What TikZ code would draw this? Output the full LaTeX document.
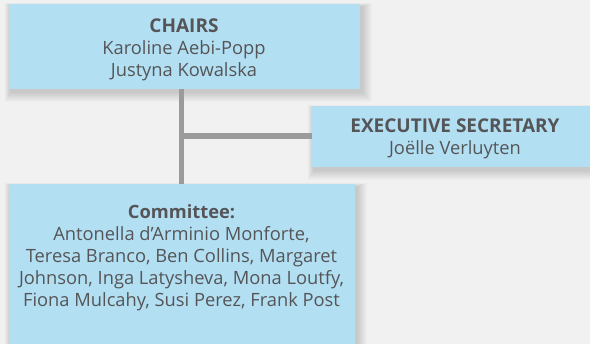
\documentclass[tikz,border=0pt]{standalone}
\usepackage{fontspec}
\setmainfont{Open Sans}
\definecolor{bg}{HTML}{F1F1F1}
\definecolor{boxblue}{HTML}{B3DFF3}
\definecolor{txt}{HTML}{555557}
\definecolor{conn}{HTML}{9B9B9B}
\pgfdeclarelayer{back}
\pgfdeclarelayer{shade}
\pgfsetlayers{back,shade,main}
\newcommand{\hd}[1]{{\fontsize{19}{22}\selectfont\bfseries #1}}
\newcommand{\softshade}[1]{%
  \begin{pgfonlayer}{shade}
  \foreach \r in {1,...,10}{
    \fill[black, fill opacity=0.014]
      ([xshift={(2-\r*0.6)*1pt}, yshift={(-3+\r*0.4)*1pt}]#1.north west)
      rectangle ([xshift={(2+\r)*1pt}, yshift={(-3-\r)*1pt}]#1.south east);
  }
  \end{pgfonlayer}}
\begin{document}
\begin{tikzpicture}[x=1pt,y=-1pt,
  orgbox/.style={fill=boxblue, draw=none, inner sep=0pt},
  orgtext/.style={text=txt, align=center, inner sep=0pt, font=\fontsize{18.3}{22}\selectfont},
  link/.style={draw=conn, line width=5.3pt}]
\useasboundingbox (0,0) rectangle (590,344);
\begin{pgfonlayer}{back}
\fill[bg] (0,0) rectangle (590,344);
\end{pgfonlayer}
% boxes
\node[orgbox, minimum width=351pt, minimum height=84.7pt] (chairs) at (184.5,46.35) {};
\node[orgbox, minimum width=290pt, minimum height=60.7pt] (secretary) at (457,136.35) {};
\node[orgbox, minimum width=346pt, minimum height=160pt] (committee) at (182,264) {};
\softshade{chairs}
\softshade{secretary}
\softshade{committee}
% connectors
\coordinate (joint) at (181.5,136);
\draw[link] (chairs.south -| joint) -- (committee.north -| joint);
\draw[link] (joint) -- (secretary.west |- joint);
% texts
\node[orgtext] (chairstext) at (184,49.5) {\hd{CHAIRS}\\Karoline Aebi-Popp\\Justyna Kowalska};
\node[orgtext] (secretarytext) at (455,139) {\hd{EXECUTIVE SECRETARY}\\Joëlle Verluyten};
\node[orgtext] (committeetext) at (181.5,257.5) {\textbf{Committee:}\\Antonella d’Arminio Monforte,\\Teresa Branco, Ben Collins, Margaret\\Johnson, Inga Latysheva, Mona Loutfy,\\Fiona Mulcahy, Susi Perez, Frank Post};
\end{tikzpicture}
\end{document}
